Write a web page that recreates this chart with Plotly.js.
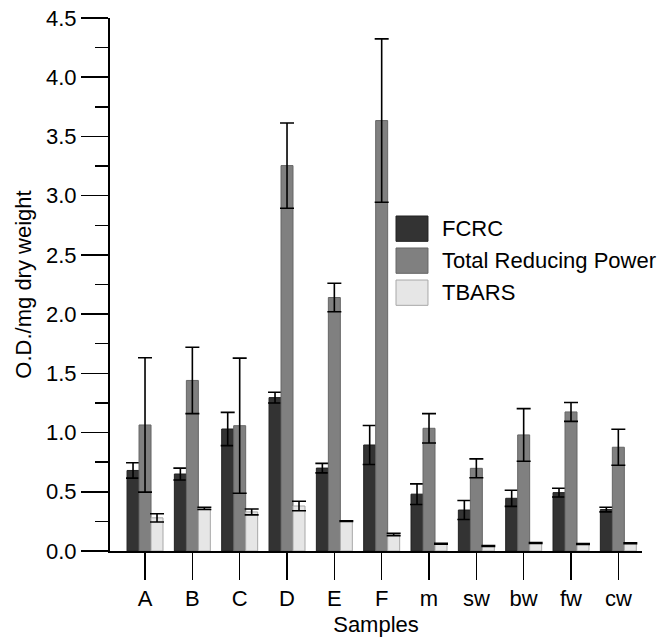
<!DOCTYPE html>
<html>
<head>
<meta charset="utf-8">
<script src="https://cdn.plot.ly/plotly-3.0.1.min.js"></script>
<style>html,body{margin:0;padding:0;background:#fff;}#chart{width:665px;height:644px;}</style>
</head>
<body>
<div id="chart"></div>
<script>
var samples = ["A","B","C","D","E","F","m","sw","bw","fw","cw"];
var seriesNames = ["FCRC","Total Reducing Power","TBARS"];
var fcrc     = [0.68, 0.65, 1.03, 1.295, 0.70, 0.895, 0.48, 0.346, 0.445, 0.493, 0.35];
var fcrcErr  = [0.065,0.05, 0.14, 0.045, 0.04, 0.165, 0.087,0.08, 0.068, 0.037, 0.02];
var trp      = [1.064,1.44, 1.058,3.254, 2.14, 3.634, 1.036,0.698, 0.98, 1.174, 0.876];
var trpErr   = [0.567,0.28, 0.57, 0.36,  0.12, 0.69,  0.124,0.08,  0.222, 0.08,  0.152];
var tbars    = [0.28, 0.36, 0.33, 0.38,  0.253,0.14,  0.062,0.042, 0.067, 0.059, 0.065];
var tbarsErr = [0.035,0.01, 0.025,0.04,  0.003,0.01,  0.004,0.003, 0.004, 0.003, 0.004];

var fills = ["#333333","#808080","#e6e6e6"];
var lines = ["#222222","#666666","#a8a8a8"];
var values = [fcrc, trp, tbars];
var errs = [fcrcErr, trpErr, tbarsErr];

var FONT = "Liberation Sans, Arial, sans-serif";
var traces = values.map(function(v,i){
  return {
    type:"bar", x:samples, y:v, name:seriesNames[i],
    marker:{color:fills[i], line:{color:lines[i], width:1}},
    error_y:{type:"data", array:errs[i], visible:true, color:"#000", thickness:1.6, width:7},
    showlegend:false
  };
});

// custom legend (large swatches)
var shapes = [], annotations = [];
var lx0 = 0.5376, lx1 = 0.5977;
var ly = [0.6285, 0.5685, 0.5084];
var lh = 0.0475;
seriesNames.forEach(function(n,i){
  shapes.push({type:"rect", xref:"paper", yref:"paper", x0:lx0, x1:lx1, y0:ly[i]-lh, y1:ly[i],
    fillcolor:fills[i], line:{color:lines[i], width:1}});
  annotations.push({xref:"paper", yref:"paper", x:0.621, y:ly[i]-lh/2, xanchor:"left", yanchor:"middle",
    text:n, showarrow:false, font:{family:FONT, size:22, color:"#000"}});
});

var layout = {
  width:665, height:644,
  margin:{l:110, r:23, t:18, b:93},
  paper_bgcolor:"#fff", plot_bgcolor:"#fff",
  font:{family:FONT, size:22, color:"#000"},
  barmode:"group", bargap:0.24, bargroupgap:0,
  showlegend:false,
  xaxis:{
    type:"category", range:[-0.74, 10.5],
    showline:true, linecolor:"#000", linewidth:2,
    ticks:"outside", ticklen:27, tickwidth:1.5, tickcolor:"#000",
    showgrid:false, zeroline:false,
    tickfont:{family:FONT, size:22, color:"#000"},
    title:{text:"Samples", font:{family:FONT, size:22, color:"#000"}, standoff:6}
  },
  yaxis:{
    range:[0,4.5], dtick:0.5, tick0:0, tickformat:".1f",
    showline:true, linecolor:"#000", linewidth:2,
    ticks:"outside", ticklen:27, tickwidth:1.5, tickcolor:"#000",
    minor:{dtick:0.25, ticks:"outside", ticklen:13, tickwidth:1.5, tickcolor:"#000", showgrid:false},
    showgrid:false, zeroline:false,
    tickfont:{family:FONT, size:22, color:"#000"},
    title:{text:"O.D./mg dry weight", font:{family:FONT, size:22, color:"#000"}, standoff:8}
  },
  shapes:shapes, annotations:annotations
};

Plotly.newPlot("chart", traces, layout, {displayModeBar:false, staticPlot:true});
</script>
</body>
</html>
